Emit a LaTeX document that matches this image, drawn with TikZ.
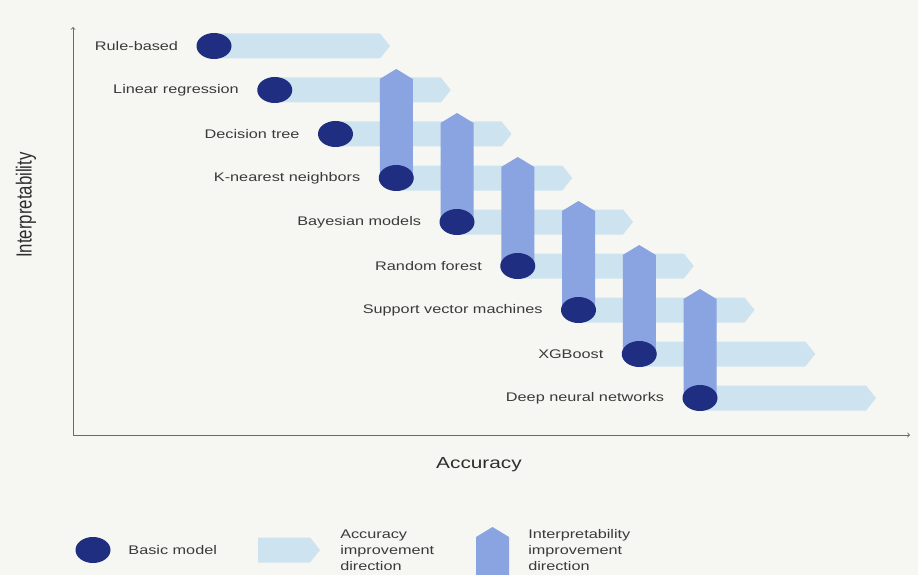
\documentclass[tikz,border=0pt]{standalone}
\usepackage{fontspec}
\setmainfont{Liberation Sans}
\usetikzlibrary{positioning,shapes.geometric}

\definecolor{bgcol}{HTML}{F6F6F3}
\definecolor{accblue}{HTML}{CDE3EF}
\definecolor{intblue}{HTML}{89A4E0}
\definecolor{modelblue}{HTML}{1F2E80}
\definecolor{txtgray}{HTML}{3A3A3A}
\definecolor{axisgray}{HTML}{6A6A6A}

\tikzset{
  model/.style={ellipse, fill=modelblue, minimum width=35pt, minimum height=26pt, inner sep=0pt},
  lbl/.style={text=txtgray, font=\fontsize{12.5}{16}\selectfont, xscale=1.3, inner sep=0pt},
  ttl/.style={text=txtgray!80!black, font=\fontsize{16}{18}\selectfont, xscale=1.3, inner sep=0pt},
  acc/.style={fill=accblue},
  intp/.style={fill=intblue},
  axis/.style={draw=axisgray, line width=0.9pt, ->},
}

\begin{document}
\begin{tikzpicture}[x=1pt,y=-1pt]
  \fill[bgcol] (0,0) rectangle (918,575);

  % axes
  \coordinate (o) at (73,435);
  \coordinate (xend) at (910,435);
  \coordinate (yend) at (73,27);
  \draw[axis] (o) -- (yend);
  \draw[axis] (o) -- (xend);
  \node[ttl] (acctitle) at (479,465) {Accuracy};
  \node[ttl,rotate=90,font=\fontsize{16.8}{18}\selectfont] (inttitle) at (26,205) {Interpretability};

  % model positions
  \coordinate (c1) at (214,46);
  \coordinate (c2) at (274.75,90);
  \coordinate (c3) at (335.5,134);
  \coordinate (c4) at (396.25,178);
  \coordinate (c5) at (457,222);
  \coordinate (c6) at (517.75,266);
  \coordinate (c7) at (578.5,310);
  \coordinate (c8) at (639.25,354);
  \coordinate (c9) at (700,398);

  % accuracy improvement arrows
  \fill[acc] (c1) ++(0,-12.5) -- ++(166,0) -- ++(10,12.5) -- ++(-10,12.5) -- ++(-166,0) -- cycle;
  \fill[acc] (c2) ++(0,-12.5) -- ++(166,0) -- ++(10,12.5) -- ++(-10,12.5) -- ++(-166,0) -- cycle;
  \fill[acc] (c3) ++(0,-12.5) -- ++(166,0) -- ++(10,12.5) -- ++(-10,12.5) -- ++(-166,0) -- cycle;
  \fill[acc] (c4) ++(0,-12.5) -- ++(166,0) -- ++(10,12.5) -- ++(-10,12.5) -- ++(-166,0) -- cycle;
  \fill[acc] (c5) ++(0,-12.5) -- ++(166,0) -- ++(10,12.5) -- ++(-10,12.5) -- ++(-166,0) -- cycle;
  \fill[acc] (c6) ++(0,-12.5) -- ++(166,0) -- ++(10,12.5) -- ++(-10,12.5) -- ++(-166,0) -- cycle;
  \fill[acc] (c7) ++(0,-12.5) -- ++(166,0) -- ++(10,12.5) -- ++(-10,12.5) -- ++(-166,0) -- cycle;
  \fill[acc] (c8) ++(0,-12.5) -- ++(166,0) -- ++(10,12.5) -- ++(-10,12.5) -- ++(-166,0) -- cycle;
  \fill[acc] (c9) ++(0,-12.5) -- ++(166,0) -- ++(10,12.5) -- ++(-10,12.5) -- ++(-166,0) -- cycle;

  % interpretability improvement arrows
  \fill[intp] (c4) ++(-16.5,0) -- ++(0,-99) -- ++(16.5,-10) -- ++(16.5,10) -- ++(0,99) -- cycle;
  \fill[intp] (c5) ++(-16.5,0) -- ++(0,-99) -- ++(16.5,-10) -- ++(16.5,10) -- ++(0,99) -- cycle;
  \fill[intp] (c6) ++(-16.5,0) -- ++(0,-99) -- ++(16.5,-10) -- ++(16.5,10) -- ++(0,99) -- cycle;
  \fill[intp] (c7) ++(-16.5,0) -- ++(0,-99) -- ++(16.5,-10) -- ++(16.5,10) -- ++(0,99) -- cycle;
  \fill[intp] (c8) ++(-16.5,0) -- ++(0,-99) -- ++(16.5,-10) -- ++(16.5,10) -- ++(0,99) -- cycle;
  \fill[intp] (c9) ++(-16.5,0) -- ++(0,-99) -- ++(16.5,-10) -- ++(16.5,10) -- ++(0,99) -- cycle;

  % basic models
  \node[model] (rule) at (c1) {};
  \node[model] (linreg) at (c2) {};
  \node[model] (dtree) at (c3) {};
  \node[model] (knn) at (c4) {};
  \node[model] (bayes) at (c5) {};
  \node[model] (rforest) at (c6) {};
  \node[model] (svm) at (c7) {};
  \node[model] (xgb) at (c8) {};
  \node[model] (dnn) at (c9) {};

  \node[lbl,left=18pt of rule] (rulelbl) {Rule-based};
  \node[lbl,left=18pt of linreg] (linreglbl) {Linear regression};
  \node[lbl,left=18pt of dtree] (dtreelbl) {Decision tree};
  \node[lbl,left=18pt of knn] (knnlbl) {K-nearest neighbors};
  \node[lbl,left=18pt of bayes] (bayeslbl) {Bayesian models};
  \node[lbl,left=18pt of rforest] (rforestlbl) {Random forest};
  \node[lbl,left=18pt of svm] (svmlbl) {Support vector machines};
  \node[lbl,left=18pt of xgb] (xgblbl) {XGBoost};
  \node[lbl,left=18pt of dnn] (dnnlbl) {Deep neural networks};

  % legend
  \node[model] (legmodel) at (93,550) {};
  \node[lbl,right=17.5pt of legmodel] (legmodellbl) {Basic model};
  \coordinate (legacc) at (258,550);
  \fill[acc] (legacc) ++(0,-12.5) -- ++(52,0) -- ++(10,12.5) -- ++(-10,12.5) -- ++(-52,0) -- cycle;
  \node[lbl,anchor=west,align=left] (legacclbl) at (340,550) {Accuracy\\improvement\\direction};
  \coordinate (legint) at (492.5,575);
  \fill[intp] (legint) ++(-16.5,0) -- ++(0,-38) -- ++(16.5,-10) -- ++(16.5,10) -- ++(0,38) -- cycle;
  \node[lbl,anchor=west,align=left] (legintlbl) at (528,550) {Interpretability\\improvement\\direction};
\end{tikzpicture}
\end{document}
